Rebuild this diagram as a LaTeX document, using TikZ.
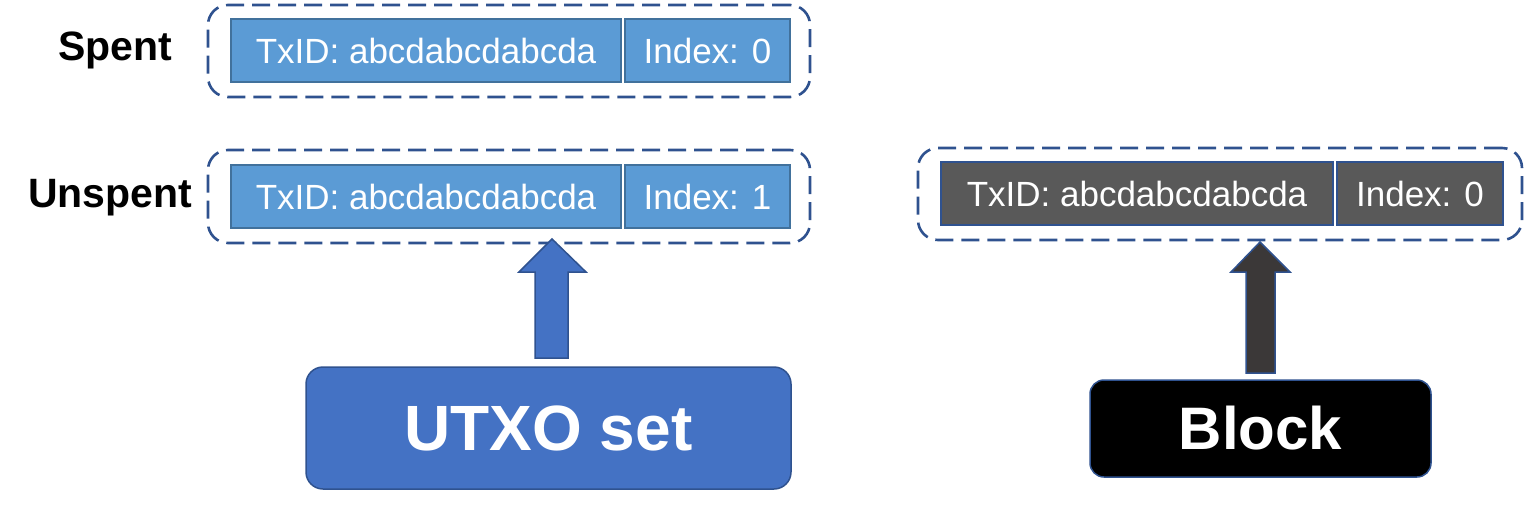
\documentclass[tikz,border=0pt]{standalone}
\usepackage{fontspec}
\setmainfont{Liberation Sans}
\definecolor{fieldblue}{HTML}{5B9BD5}
\definecolor{fieldborder}{HTML}{41719C}
\definecolor{dashblue}{HTML}{2F528F}
\definecolor{utxoblue}{HTML}{4472C4}
\definecolor{fieldgray}{HTML}{595959}
\definecolor{arrowgray}{HTML}{3B3838}
\begin{document}
\begin{tikzpicture}[x=1pt,y=-1pt,
  field/.style={draw=fieldborder, line width=1.2pt, fill=fieldblue, text=white,
    font=\fontsize{35}{40}\selectfont, inner sep=0pt, minimum height=63pt},
  grayfield/.style={field, fill=fieldgray, draw=dashblue},
  group/.style={draw=dashblue, line width=2.6pt, dash pattern=on 18pt off 8pt,
    rounded corners=20pt, inner sep=0pt},
  label/.style={font=\bfseries\fontsize{41}{48}\selectfont, text=black, inner sep=0pt},
  bigbox/.style={draw=dashblue, line width=1.5pt, text=white, inner sep=0pt,
    font=\bfseries\fontsize{64}{70}\selectfont},
  blockarrow/.style={draw=dashblue, line width=1.5pt, line join=miter}
]
\useasboundingbox (0,0) rectangle (1525,520);

% Spent row
\node[group, minimum width=602pt, minimum height=92pt] (g1) at (509,51) {};
\node[field, minimum width=390pt] (tx1) at (426,50.5) {TxID: abcdabcdabcda};
\node[field, minimum width=165pt] (ix1) at (707.5,50.5) {Index: 0};
\node[label] (spent) at (115,50) {Spent};

% Unspent row
\node[group, minimum width=602pt, minimum height=93pt] (g2) at (509,196.5) {};
\node[field, minimum width=390pt] (tx2) at (426,196.5) {TxID: abcdabcdabcda};
\node[field, minimum width=165pt] (ix2) at (707.5,196.5) {Index: 1};
\node[label] (unspent) at (110,198) {Unspent};

% Block row
\node[group, minimum width=604pt, minimum height=92pt] (g3) at (1220,194) {};
\node[grayfield, minimum width=392pt] (tx3) at (1137,193.5) {TxID: abcdabcdabcda};
\node[grayfield, minimum width=166pt] (ix3) at (1420,193.5) {Index: 0};

% Bottom boxes
\node[bigbox, fill=utxoblue, rounded corners=17pt, minimum width=485pt, minimum height=122pt] (utxo) at (548.5,428) {UTXO set};
\node[bigbox, fill=black, rounded corners=14pt, minimum width=341pt, minimum height=97pt,
  font=\bfseries\fontsize{60}{66}\selectfont] (block) at (1260.5,428.5) {Block};

% Block arrows
\coordinate (a1tip) at (552,239);
\coordinate (a2tip) at (1260,242);
\draw[blockarrow, fill=utxoblue] (535,358) -- (535,272) -- (519,272) -- (a1tip) -- (586,272) -- (568,272) -- (568,358) -- cycle;
\draw[blockarrow, fill=arrowgray] (1246,373) -- (1246,272) -- (1231,272) -- (a2tip) -- (1290,272) -- (1275,272) -- (1275,373) -- cycle;
\end{tikzpicture}
\end{document}
